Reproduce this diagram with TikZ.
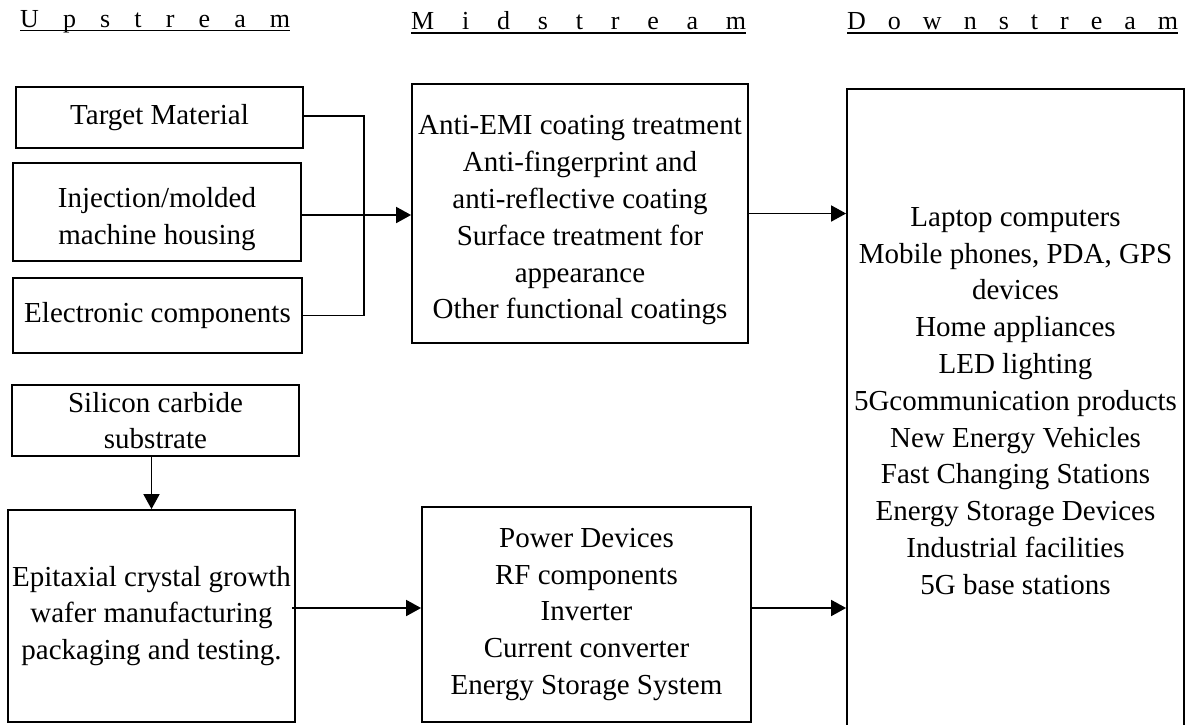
\documentclass[tikz,border=0pt]{standalone}
\usepackage{fontspec}
\setmainfont{Liberation Serif}
\usetikzlibrary{arrows.meta}
\begin{document}
\begin{tikzpicture}[x=1pt,y=-1pt,
  box/.style={draw, line width=1.8pt, inner sep=0pt, align=center, font=\fontsize{29}{36.8}\selectfont},
  txt/.style={inner sep=0pt, align=center, font=\fontsize{29}{36.8}\selectfont},
  hdr/.style={inner sep=0pt, anchor=base west, font=\fontsize{26}{30}\selectfont},
  uline/.style={line width=1.8pt},
  arr/.style={line width=1.8pt, -{Triangle[length=15pt,width=16pt]}},
  con/.style={line width=1.8pt}]
\useasboundingbox (0,0) rectangle (1197,724);
\clip (0,0) rectangle (1197,724);

% headers
\node[hdr] (hu) at (20,27) {\makebox[270pt][s]{U\hfil p\hfil s\hfil t\hfil r\hfil e\hfil a\hfil m}};
\node[hdr] (hm) at (411,29) {\makebox[335pt][s]{M\hfil i\hfil d\hfil s\hfil t\hfil r\hfil e\hfil a\hfil m}};
\node[hdr] (hd) at (847,29) {\makebox[331pt][s]{D\hfil o\hfil w\hfil n\hfil s\hfil t\hfil r\hfil e\hfil a\hfil m}};
\draw[uline] ([yshift=-3.5pt]hu.base west) -- ([yshift=-3.5pt]hu.base east);
\draw[uline] ([yshift=-4pt]hm.base west) -- ([yshift=-4pt]hm.base east);
\draw[uline] ([yshift=-4pt]hd.base west) -- ([yshift=-4pt]hd.base east);

% upstream boxes
\node[box, minimum width=287pt, minimum height=61pt] (tm) at (159.5,117.5) {Target Material};
\node[box, minimum width=288pt, minimum height=98pt] (inj) at (157,212) {};
\node[txt] (injtxt) at (157,219) {Injection/molded\\machine housing};
\node[box, minimum width=289pt, minimum height=75pt] (elec) at (157.5,315.5) {Electronic components};
\node[box, minimum width=287pt, minimum height=71pt] (sic) at (155.5,420.5) {Silicon carbide\\substrate};
\node[box, minimum width=287pt, minimum height=212pt] (epi) at (151.5,616) {Epitaxial crystal growth\\wafer manufacturing\\packaging and testing.};

% midstream boxes
\node[box, minimum width=336pt, minimum height=259pt] (mid1) at (580,213.5) {};
\node[txt] (mid1txt) at (580,220.5) {Anti-EMI coating treatment\\Anti-fingerprint and\\anti-reflective coating\\Surface treatment for\\appearance\\Other functional coatings};
\node[box, minimum width=329pt, minimum height=215pt] (mid2) at (586.5,614.5) {Power Devices\\RF components\\Inverter\\Current converter\\Energy Storage System};

% downstream box
\node[box, minimum width=337pt, minimum height=711pt] (down) at (1015.5,444.5) {};
\node[txt] (downtxt) at (1015.5,401) {Laptop computers\\Mobile phones, PDA, GPS\\devices\\Home appliances\\LED lighting\\5Gcommunication products\\New Energy Vehicles\\Fast Changing Stations\\Energy Storage Devices\\Industrial facilities\\5G base stations};

% connectors
\draw[con] ([yshift=1.5pt]tm.east) -- ++(60,0) |- (elec.east);
\draw[arr] ([yshift=-3pt]inj.east) -- ([yshift=-3pt]inj.east -| mid1.west);
\draw[arr] (mid1.east) -- (mid1.east -| down.west);
\draw[arr] (epi.north |- sic.south) -- (epi.north);
\draw[arr] ([xshift=-4pt,yshift=8pt]epi.east) -- ([yshift=8pt]epi.east -| mid2.west);
\draw[arr] ([yshift=6.5pt]mid2.east) -- ([yshift=6.5pt]mid2.east -| down.west);
\end{tikzpicture}
\end{document}
